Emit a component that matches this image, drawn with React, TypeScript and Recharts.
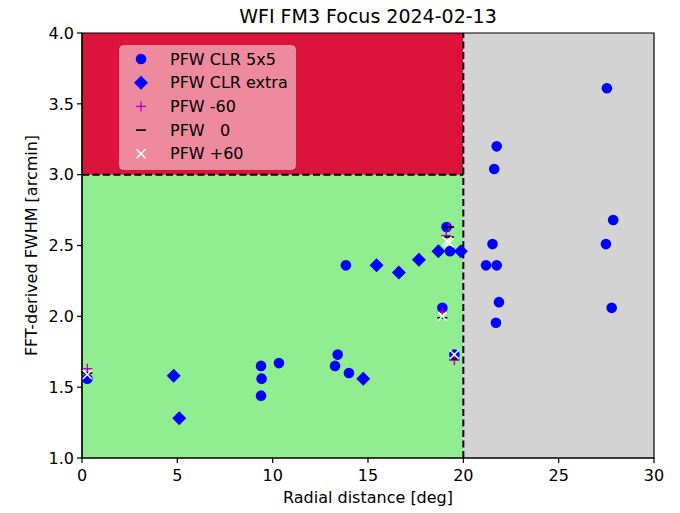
import React from 'react';
import { ScatterChart, Scatter, XAxis, YAxis, ReferenceArea, ReferenceLine, Label } from 'recharts';

const FONT = '"DejaVu Sans", sans-serif';

const clr5x5X = [0.28, 9.39, 9.42, 9.39, 10.33, 13.41, 13.27, 14.0, 13.84, 19.12, 19.3, 18.9, 19.53, 21.75, 21.62, 27.86, 21.53, 27.48, 21.19, 21.75, 21.87, 27.78, 21.71, 27.53];
const clr5x5Y = [1.56, 1.65, 1.56, 1.44, 1.67, 1.73, 1.65, 1.60, 2.36, 2.63, 2.46, 2.06, 1.73, 3.20, 3.04, 2.68, 2.51, 2.51, 2.36, 2.36, 2.10, 2.06, 1.955, 3.61];

const clrExtraX = [4.81, 5.1, 14.75, 15.45, 16.62, 17.67, 18.69, 19.87];
const clrExtraY = [1.58, 1.28, 1.56, 2.36, 2.31, 2.40, 2.46, 2.46];

const pfwM60X = [0.28, 19.25, 19.1, 18.9, 19.53];
const pfwM60Y = [1.63, 2.63, 2.57, 2.03, 1.69];

const pfw0X = [0.28, 19.25, 19.25, 18.9, 19.53];
const pfw0Y = [1.60, 2.63, 2.56, 1.99, 1.70];

const pfwP60X = [0.28, 19.25, 19.15, 18.9, 19.53];
const pfwP60Y = [1.59, 2.52, 2.53, 2.00, 1.73];

const xTicks = [0, 5, 10, 15, 20, 25, 30];
const yTicks = [1.0, 1.5, 2.0, 2.5, 3.0, 3.5, 4.0];

const legendLabels = ['PFW CLR 5x5', 'PFW CLR extra', 'PFW -60', 'PFW   0', 'PFW +60'];

const toPts = (xs: number[], ys: number[]) => xs.map((x, i) => ({ x, y: ys[i] }));

const BLUE = '#0000ff';
const MAGENTA = '#bf00bf';

const CircleShape = (p: any) => <circle cx={p.cx} cy={p.cy} r={5.3} fill={BLUE} />;
const DiamondShape = (p: any) => (
  <polygon points={`${p.cx},${p.cy - 7} ${p.cx + 7},${p.cy} ${p.cx},${p.cy + 7} ${p.cx - 7},${p.cy}`} fill={BLUE} />
);
const PlusShape = (p: any) => (
  <g stroke={MAGENTA} strokeWidth={1.4}>
    <line x1={p.cx - 5} y1={p.cy} x2={p.cx + 5} y2={p.cy} />
    <line x1={p.cx} y1={p.cy - 5} x2={p.cx} y2={p.cy + 5} />
  </g>
);
const MinusShape = (p: any) => (
  <line x1={p.cx - 5} y1={p.cy} x2={p.cx + 5} y2={p.cy} stroke="#000" strokeWidth={1.6} />
);
const XShape = (p: any) => (
  <g stroke="#fff" strokeWidth={1.5}>
    <line x1={p.cx - 4.5} y1={p.cy - 4.5} x2={p.cx + 4.5} y2={p.cy + 4.5} />
    <line x1={p.cx - 4.5} y1={p.cy + 4.5} x2={p.cx + 4.5} y2={p.cy - 4.5} />
  </g>
);

const legendShapes = [CircleShape, DiamondShape, PlusShape, MinusShape, XShape];

const LegendBox = () => (
  <svg width={178} height={126} style={{ display: 'block' }}>
    <rect x={0.5} y={0.5} width={176} height={124} rx={4} fill="#ffffff" fillOpacity={0.5} stroke="#cccccc" strokeOpacity={0.5} />
    {legendLabels.map((lab, i) => {
      const cy = 14 + i * 23.7;
      const S = legendShapes[i];
      return (
        <g key={lab}>
          <S cx={22} cy={cy} />
          <text x={51} y={cy} dominantBaseline="central" fontSize={16} fontFamily={FONT} fill="#000" style={{ whiteSpace: 'pre' }} xmlSpace="preserve">{lab}</text>
        </g>
      );
    })}
  </svg>
);

export default function App() {
  const tickStyle = { fill: '#000', fontSize: 16, fontFamily: FONT };
  return (
    <div style={{ position: 'absolute', left: 0, top: 0, width: 680, height: 513, background: '#fff' }}>
      <div style={{ position: 'absolute', left: 0, width: 736, top: 5, textAlign: 'center', fontFamily: FONT, fontSize: 19, lineHeight: '22px', color: '#000', zIndex: 2 }}>
        WFI FM3 Focus 2024-02-13
      </div>
      <ScatterChart width={680} height={513} margin={{ top: 33, right: 26, bottom: 0, left: 0 }}>
        <XAxis dataKey="x" type="number" domain={[0, 30]} ticks={xTicks} allowDataOverflow
          tick={tickStyle} tickSize={5} tickMargin={7} height={55}
          axisLine={{ stroke: '#000', strokeWidth: 1.2 }} tickLine={{ stroke: '#000', strokeWidth: 1.2 }}>
          <Label content={() => (
            <text x={368} y={497} textAnchor="middle" dominantBaseline="central" fontSize={16} fontFamily={FONT} fill="#000">Radial distance [deg]</text>
          )} />
        </XAxis>
        <YAxis dataKey="y" type="number" domain={[1, 4]} ticks={yTicks} allowDataOverflow
          tickFormatter={(v: number) => v.toFixed(1)}
          tick={tickStyle} tickSize={5} tickMargin={3} width={82}
          axisLine={{ stroke: '#000', strokeWidth: 1.2 }} tickLine={{ stroke: '#000', strokeWidth: 1.2 }}>
          <Label content={() => (
            <text x={31} y={245.5} transform="rotate(-90 31 245.5)" textAnchor="middle" dominantBaseline="central" fontSize={16} fontFamily={FONT} fill="#000">FFT-derived FWHM [arcmin]</text>
          )} />
        </YAxis>
        <ReferenceArea x1={0} x2={20} y1={1} y2={3} fill="#90ee90" fillOpacity={1} stroke="none" />
        <ReferenceArea x1={0} x2={20} y1={3} y2={4} fill="#dc143c" fillOpacity={1} stroke="none" />
        <ReferenceArea x1={20} x2={30} y1={1} y2={4} fill="#d3d3d3" fillOpacity={1} stroke="none" />
        <ReferenceLine x={20} stroke="#000" strokeWidth={2} strokeDasharray="7 3.5" />
        <ReferenceLine segment={[{ x: 0, y: 3 }, { x: 20, y: 3 }]} stroke="#000" strokeWidth={2} strokeDasharray="7 3.5" />
        <ReferenceArea x1={0} x2={30} y1={1} y2={4} fill="none" stroke="#000" strokeWidth={1.2} />
        <Scatter name={legendLabels[0]} data={toPts(clr5x5X, clr5x5Y)} shape={CircleShape} isAnimationActive={false} />
        <Scatter name={legendLabels[1]} data={toPts(clrExtraX, clrExtraY)} shape={DiamondShape} isAnimationActive={false} />
        <Scatter name={legendLabels[2]} data={toPts(pfwM60X, pfwM60Y)} shape={PlusShape} isAnimationActive={false} />
        <Scatter name={legendLabels[3]} data={toPts(pfw0X, pfw0Y)} shape={MinusShape} isAnimationActive={false} />
        <Scatter name={legendLabels[4]} data={toPts(pfwP60X, pfwP60Y)} shape={XShape} isAnimationActive={false} />
      </ScatterChart>
      <div style={{ position: 'absolute', left: 119, top: 45, zIndex: 3 }}>
        <LegendBox />
      </div>
    </div>
  );
}
